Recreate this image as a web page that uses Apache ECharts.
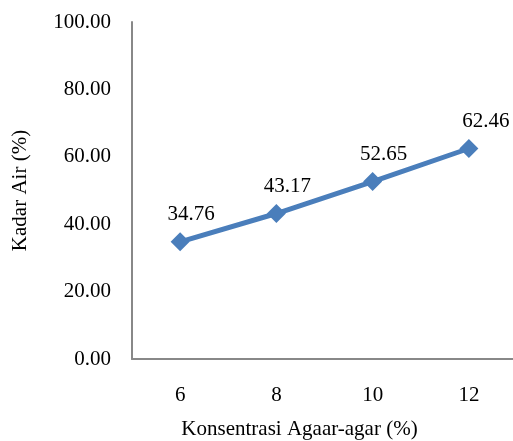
<!DOCTYPE html>
<html>
<head>
<meta charset="utf-8">
<script src="https://cdn.jsdelivr.net/npm/echarts@6/dist/echarts.min.js"></script>
<style>
  html, body { margin: 0; padding: 0; background: #fff; }
  #chart { width: 513px; height: 441px; }
</style>
</head>
<body>
<div id="chart"></div>
<script>
// Agar-agar concentration (%) vs. moisture content (%)
const categories = ['6', '8', '10', '12'];
const kadarAir = [34.76, 43.17, 52.65, 62.46];
const yTicks = [0, 20, 40, 60, 80, 100];

const FONT = '"Liberation Serif", "Times New Roman", serif';
const FS = 21;
const axisGray = '#888888';
const lineBlue = '#4a7ebb';

// value labels sit slightly right of each marker; the last one a bit further
const labelOffsetX = i => (i === kadarAir.length - 1 ? 17 : 11);

const chart = echarts.init(document.getElementById('chart'), null, { renderer: 'canvas' });
chart.setOption({
  animation: false,
  backgroundColor: '#ffffff',
  grid: { left: 132, right: -4, top: 22, bottom: 82, containLabel: false, outerBoundsMode: 'none' },
  xAxis: {
    type: 'category',
    data: categories,
    boundaryGap: true,
    name: 'Konsentrasi Agaar-agar (%)',
    nameLocation: 'middle',
    nameGap: 60,
    // right padding pulls the title left, centring it under the whole figure
    nameTextStyle: { fontFamily: FONT, fontSize: FS, color: '#000', padding: [0, 50, 0, 0] },
    axisLine: { show: true, lineStyle: { color: axisGray, width: 2 } },
    axisTick: { show: false },
    axisLabel: { fontFamily: FONT, fontSize: FS, color: '#000', margin: 26 },
    splitLine: { show: false }
  },
  yAxis: {
    type: 'value',
    min: yTicks[0],
    max: yTicks[yTicks.length - 1],
    interval: yTicks[1] - yTicks[0],
    name: 'Kadar Air (%)',
    nameLocation: 'middle',
    nameGap: 101,
    nameTextStyle: { fontFamily: FONT, fontSize: FS, color: '#000' },
    axisLine: { show: true, lineStyle: { color: axisGray, width: 2 } },
    axisTick: { show: false },
    axisLabel: {
      fontFamily: FONT, fontSize: FS, color: '#000', margin: 21,
      formatter: v => v.toFixed(2)
    },
    splitLine: { show: false }
  },
  series: [{
    type: 'line',
    data: kadarAir.map((v, i) => ({
      value: v,
      label: { offset: [labelOffsetX(i), 0] }
    })),
    symbol: 'diamond',
    symbolSize: 19,
    lineStyle: { color: lineBlue, width: 5 },
    itemStyle: { color: lineBlue },
    label: {
      show: true,
      position: 'top',
      distance: 7,
      fontFamily: FONT,
      fontSize: FS,
      color: '#000',
      formatter: p => p.value.toFixed(2)
    }
  }]
});
</script>
</body>
</html>
